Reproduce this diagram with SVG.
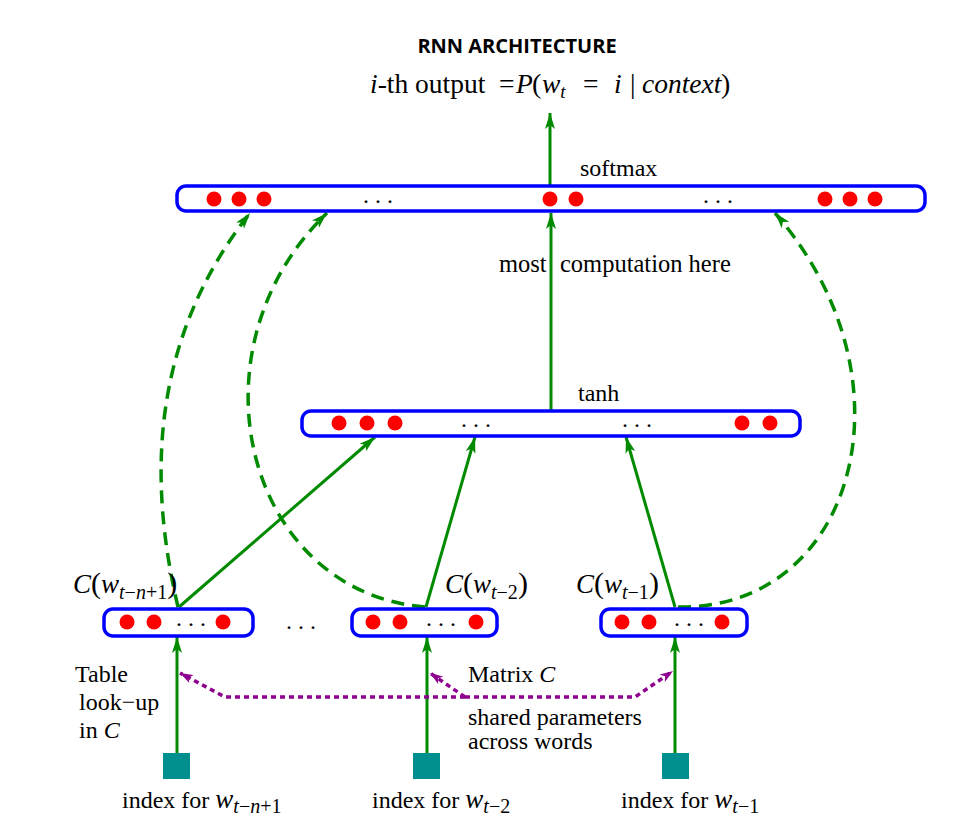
<svg xmlns="http://www.w3.org/2000/svg" width="953" height="830" viewBox="0 0 953 830">
<defs>
<marker id="ag" markerUnits="userSpaceOnUse" markerWidth="18" markerHeight="12" refX="16" refY="5" orient="auto" viewBox="0 0 18 10">
<path d="M0,0 L16,5 L0,10 L4,5 z" fill="#008a00"/>
</marker>
<marker id="ap" markerUnits="userSpaceOnUse" markerWidth="15" markerHeight="10" refX="13" refY="4.5" orient="auto" viewBox="0 0 15 9">
<path d="M0,0 L13,4.5 L0,9 L3.5,4.5 z" fill="#8e008e"/>
</marker>
</defs>
<style>
.box{fill:#fff;stroke:#0000ff;stroke-width:3.5}
.dot{fill:#ff0000}
.t{font-family:"Liberation Serif","Times New Roman",serif;font-size:24px;fill:#000}
.it{font-style:italic}
.g{stroke:#008a00;stroke-width:3;fill:none}
.gd{stroke:#008a00;stroke-width:3.5;fill:none;stroke-dasharray:13,8}
.p{stroke:#8e008e;stroke-width:3.5;fill:none;stroke-dasharray:5,4}
.sq{fill:#008f8f}
.ell{font-family:"Liberation Serif",serif;font-size:24px;fill:#000}
</style>
<rect width="953" height="830" fill="#fff"/>
<text x="517" y="53" text-anchor="middle" font-family="'Open Sans','Liberation Sans',sans-serif" font-weight="bold" font-size="20">RNN ARCHITECTURE</text>
<text class="t" y="93" style="font-size:27.5px"><tspan x="370" class="it">i</tspan>-th output<tspan x="499">=</tspan><tspan x="516" class="it">P</tspan><tspan x="532" style="font-size:28px">(</tspan><tspan x="542" class="it">w</tspan><tspan class="it" dy="5" style="font-size:19px">t</tspan><tspan x="583" dy="-5">=</tspan><tspan x="614" class="it">i</tspan><tspan x="630">|</tspan><tspan x="642" class="it">context</tspan><tspan x="721" style="font-size:28px">)</tspan></text>

<g id="connectors">
<line class="g" x1="550" y1="186" x2="550" y2="113" marker-end="url(#ag)"/>
<line class="g" x1="551" y1="410" x2="551" y2="213" marker-end="url(#ag)"/>
<line class="g" x1="179" y1="607" x2="375" y2="437" marker-end="url(#ag)"/>
<line class="g" x1="426" y1="607" x2="475" y2="437" marker-end="url(#ag)"/>
<line class="g" x1="675" y1="607" x2="626" y2="437" marker-end="url(#ag)"/>
<path class="gd" d="M178,607 C148,480 150,340 250,213" marker-end="url(#ag)"/>
<path class="gd" d="M425,607 C245,592 185,350 327,213" marker-end="url(#ag)"/>
<path class="gd" d="M678,607 C855,610 920,380 775,213" marker-end="url(#ag)"/>
<line class="g" x1="177" y1="753" x2="177" y2="637" marker-end="url(#ag)"/>
<line class="g" x1="427" y1="753" x2="427" y2="637" marker-end="url(#ag)"/>
<line class="g" x1="675" y1="753" x2="675" y2="637" marker-end="url(#ag)"/>
<path class="p" d="M465,697 L225,697 L180,673" marker-end="url(#ap)"/>
<path class="p" d="M465,697 L430,673" marker-end="url(#ap)"/>
<path class="p" d="M465,697 L635,697 L673,671" marker-end="url(#ap)"/>
</g>

<g id="softmax">
<rect class="box" x="177" y="186" width="748" height="25" rx="9"/>
<circle class="dot" cx="214" cy="199" r="7.5"/>
<circle class="dot" cx="239" cy="199" r="7.5"/>
<circle class="dot" cx="264" cy="199" r="7.5"/>
<text class="ell" x="363" y="203">. . .</text>
<circle class="dot" cx="550" cy="199" r="7.5"/>
<circle class="dot" cx="576" cy="199" r="7.5"/>
<text class="ell" x="703" y="203">. . .</text>
<circle class="dot" cx="825" cy="199" r="7.5"/>
<circle class="dot" cx="850" cy="199" r="7.5"/>
<circle class="dot" cx="875" cy="199" r="7.5"/>
<text class="t" x="580" y="176">softmax</text>
</g>

<text class="t" x="499" y="272" style="font-size:24.5px">most</text>
<text class="t" x="560" y="272" style="font-size:24.5px">computation here</text>

<g id="tanh">
<rect class="box" x="302" y="411" width="498" height="25" rx="9"/>
<circle class="dot" cx="339" cy="423" r="7.5"/>
<circle class="dot" cx="367" cy="423" r="7.5"/>
<circle class="dot" cx="395" cy="423" r="7.5"/>
<text class="ell" x="461" y="427">. . .</text>
<text class="ell" x="622" y="427">. . .</text>
<circle class="dot" cx="742" cy="423" r="7.5"/>
<circle class="dot" cx="770" cy="423" r="7.5"/>
<text class="t" x="578" y="401">tanh</text>
</g>

<g id="c1">
<rect class="box" x="104" y="609" width="149" height="27" rx="9"/>
<circle class="dot" cx="127" cy="622" r="7.5"/>
<circle class="dot" cx="154" cy="622" r="7.5"/>
<text class="ell" x="176" y="626">. . .</text>
<circle class="dot" cx="223" cy="622" r="7.5"/>
<text class="t" x="73" y="593" style="font-size:27px"><tspan class="it">C</tspan><tspan style="font-size:30px">(</tspan><tspan class="it">w</tspan><tspan dy="6" style="font-size:20px"><tspan class="it">t</tspan>−<tspan class="it">n</tspan>+1</tspan><tspan dy="-6" style="font-size:30px">)</tspan></text>
</g>

<text class="ell" x="286" y="629">. . .</text>

<g id="c2">
<rect class="box" x="352" y="609" width="145" height="27" rx="9"/>
<circle class="dot" cx="373" cy="622" r="7.5"/>
<circle class="dot" cx="400" cy="622" r="7.5"/>
<text class="ell" x="426" y="626">. . .</text>
<circle class="dot" cx="476" cy="622" r="7.5"/>
<text class="t" x="445" y="593" style="font-size:27px"><tspan class="it">C</tspan><tspan style="font-size:30px">(</tspan><tspan class="it">w</tspan><tspan dy="6" style="font-size:20px"><tspan class="it">t</tspan>−2</tspan><tspan dy="-6" style="font-size:30px">)</tspan></text>
</g>

<g id="c3">
<rect class="box" x="601" y="609" width="146" height="27" rx="9"/>
<circle class="dot" cx="622" cy="622" r="7.5"/>
<circle class="dot" cx="649" cy="622" r="7.5"/>
<text class="ell" x="674" y="626">. . .</text>
<circle class="dot" cx="722" cy="622" r="7.5"/>
<text class="t" x="576" y="593" style="font-size:27px"><tspan class="it">C</tspan><tspan style="font-size:30px">(</tspan><tspan class="it">w</tspan><tspan dy="6" style="font-size:20px"><tspan class="it">t</tspan>−1</tspan><tspan dy="-6" style="font-size:30px">)</tspan></text>
</g>

<g id="idx1">
<rect class="sq" x="163" y="753" width="27" height="26"/>
<text class="t" x="122" y="808">index for <tspan class="it" style="font-size:27px">w</tspan><tspan dy="5" style="font-size:20px"><tspan class="it">t</tspan>−<tspan class="it">n</tspan>+1</tspan></text>
</g>
<g id="idx2">
<rect class="sq" x="413" y="753" width="27" height="26"/>
<text class="t" x="372" y="808">index for <tspan class="it" style="font-size:27px">w</tspan><tspan dy="5" style="font-size:20px"><tspan class="it">t</tspan>−2</tspan></text>
</g>
<g id="idx3">
<rect class="sq" x="662" y="753" width="27" height="26"/>
<text class="t" x="621" y="808">index for <tspan class="it" style="font-size:27px">w</tspan><tspan dy="5" style="font-size:20px"><tspan class="it">t</tspan>−1</tspan></text>
</g>

<g id="labels">
<text class="t" x="75" y="682">Table</text>
<text class="t" x="79" y="710">look−up</text>
<text class="t" x="79" y="738">in <tspan class="it">C</tspan></text>
<text class="t" x="468" y="682">Matrix <tspan class="it">C</tspan></text>
<text class="t" x="468" y="725">shared parameters</text>
<text class="t" x="468" y="749">across words</text>
</g>
</svg>
